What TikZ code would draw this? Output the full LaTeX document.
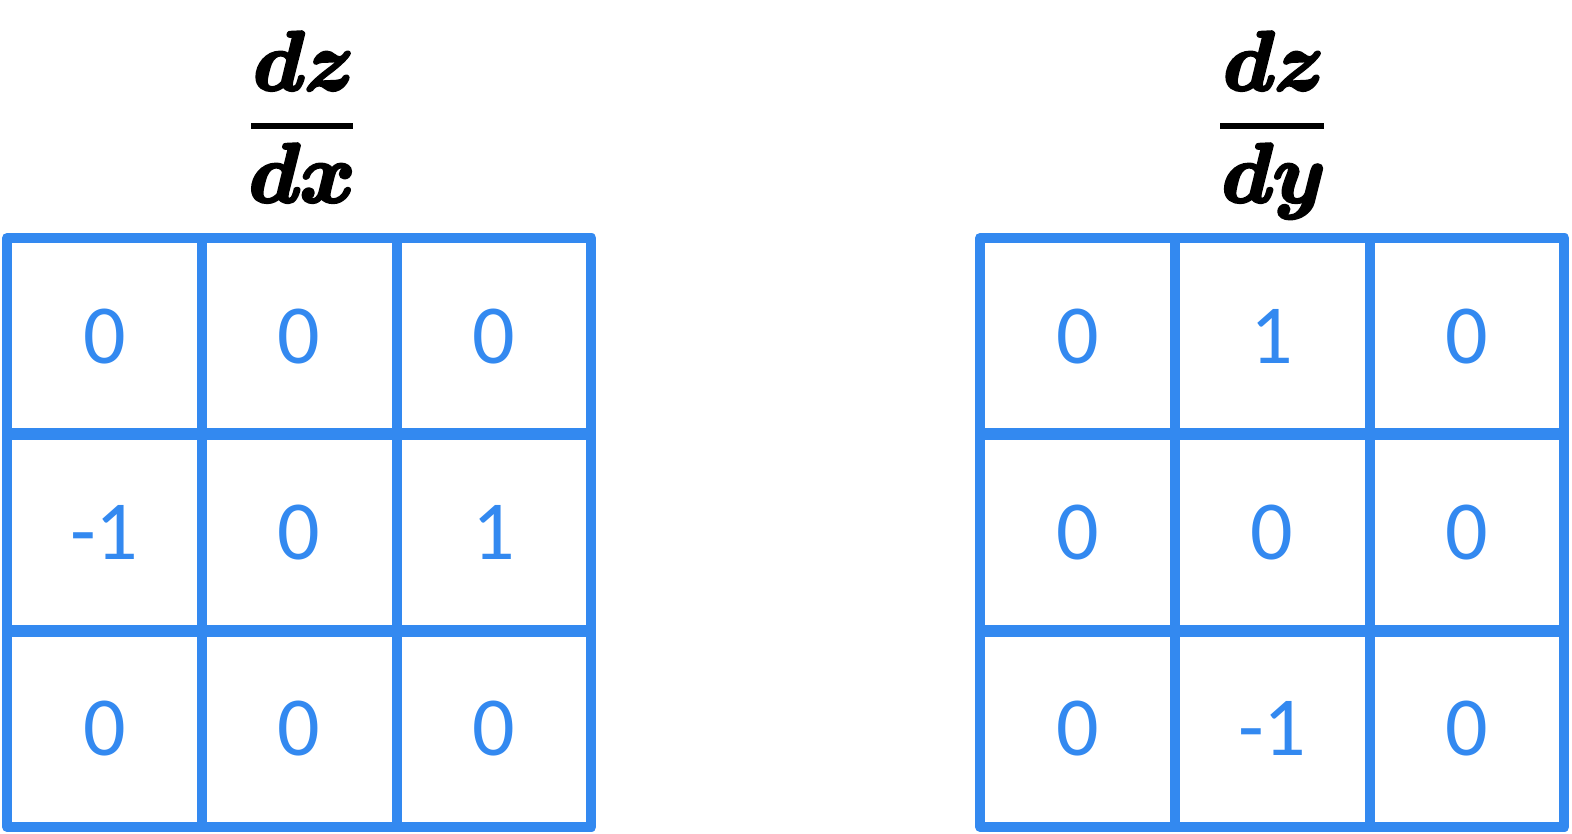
\documentclass[tikz,border=0pt]{standalone}
\usepackage{fontspec}
\newfontfamily\numfont{Carlito}
\font\fracmib=cmmib10 at 42pt
\newcommand\heavytext[1]{\special{pdf:code q 2 Tr 1.5 w 1 j}#1\special{pdf:code Q}}
\definecolor{gridblue}{RGB}{51,137,240}
\begin{document}
\begin{tikzpicture}[x=0.5pt,y=-0.5pt,
  cell/.style={draw=gridblue,line width=5pt,line join=round,minimum width=97.4pt,minimum height=98.15pt,inner sep=0pt,outer sep=0pt,font=\numfont\fontsize{42}{50}\selectfont,text=gridblue},
  sepline/.style={draw=gridblue,line width=6pt},
  frac/.style={font=\fracmib,inner sep=0pt,anchor=base},
  fracbar/.style={draw=black,line width=3pt}]
\useasboundingbox (0,0) rectangle (1572,834);
% left grid dz/dx
\node[cell] (L11) at (104.4,336.15) {0};
\node[cell] (L12) at (299.2,336.15) {0};
\node[cell] (L13) at (494.0,336.15) {0};
\node[cell] (L21) at (104.4,532.45) {-1};
\node[cell] (L22) at (299.2,532.45) {0};
\node[cell] (L23) at (494.0,532.45) {1};
\node[cell] (L31) at (104.4,728.75) {0};
\node[cell] (L32) at (299.2,728.75) {0};
\node[cell] (L33) at (494.0,728.75) {0};
\draw[sepline] (L11.south west) -- (L13.south east);
\draw[sepline] (L21.south west) -- (L23.south east);
% right grid dz/dy
\node[cell] (R11) at (1077.4,336.15) {0};
\node[cell] (R12) at (1272.2,336.15) {1};
\node[cell] (R13) at (1467.0,336.15) {0};
\node[cell] (R21) at (1077.4,532.45) {0};
\node[cell] (R22) at (1272.2,532.45) {0};
\node[cell] (R23) at (1467.0,532.45) {0};
\node[cell] (R31) at (1077.4,728.75) {0};
\node[cell] (R32) at (1272.2,728.75) {-1};
\node[cell] (R33) at (1467.0,728.75) {0};
\draw[sepline] (R11.south west) -- (R13.south east);
\draw[sepline] (R21.south west) -- (R23.south east);
% fractions
\node[frac] (Lnum) at (302,90) {\heavytext{dz}};
\node[frac] (Lden) at (302,202) {\heavytext{dx}};
\coordinate (Lbarl) at (251,126);
\coordinate (Lbarr) at (353,126);
\draw[fracbar] (Lbarl) -- (Lbarr);
\node[frac] (Rnum) at (1272,90) {\heavytext{dz}};
\node[frac] (Rden) at (1272,202) {\heavytext{dy}};
\coordinate (Rbarl) at (1220,126);
\coordinate (Rbarr) at (1324,126);
\draw[fracbar] (Rbarl) -- (Rbarr);
\end{tikzpicture}
\end{document}
